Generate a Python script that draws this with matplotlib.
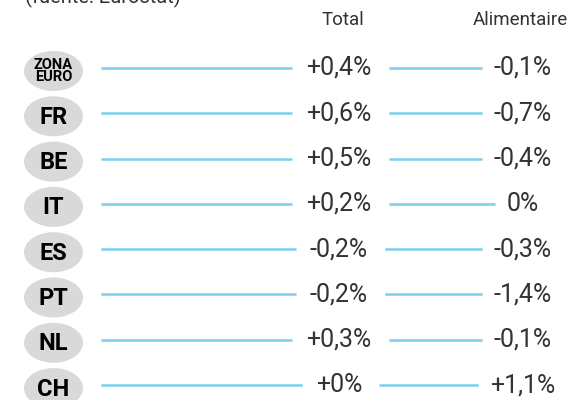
import matplotlib
matplotlib.use("Agg")
import matplotlib.pyplot as plt
from matplotlib.patches import Ellipse

# data
countries = ["ZONA\nEURO", "FR", "BE", "IT", "ES", "PT", "NL", "CH"]
total = ["+0,4%", "+0,6%", "+0,5%", "+0,2%", "-0,2%", "-0,2%", "+0,3%", "+0%"]
alimentaire = ["-0,1%", "-0,7%", "-0,4%", "0%", "-0,3%", "-1,4%", "-0,1%", "+1,1%"]
headers = ["Total", "Alimentaire"]

plt.rcParams['font.family'] = ['Roboto', 'DejaVu Sans']

fig = plt.figure(figsize=(5.78, 4.0), dpi=100)
ax = fig.add_axes([0, 0, 1, 1])
ax.set_xlim(0, 578)
# row i sits at pixel y = 68 + 45.3*i
ax.set_ylim(7.329, -1.501)
ax.axis("off")

txt_col = "#333333"
line_col = "#7fcdee"
px = 1 / 45.3  # one pixel in y data units

# title (cut off at the top)
ax.text(25, -1.501 + 3 * px, "(fuente: Eurostat)", fontsize=14.5, color=txt_col,
        ha="left", va="baseline")

# column headers
ax.text(343, -1.501 + 20 * px, headers[0], fontsize=13.5, color=txt_col, ha="center",
        va="center")
ax.text(520, -1.501 + 20 * px, headers[1], fontsize=13.5, color=txt_col, ha="center",
        va="center")

tot_x = 339
ali_x = 523
t_items = []
for i, c in enumerate(countries):
    ax.add_patch(Ellipse((53.5, i + 3 * px), 59, 40 * px, color="#d9d9d9", lw=0))
    if "\n" in c:
        ax.text(53.5, i + 3 * px, c, fontsize=10.5, fontweight="bold", color="black",
                ha="center", va="center", linespacing=0.85)
    else:
        ax.text(53.5, i + 4 * px, c, fontsize=17, fontweight="bold", color="black",
                ha="center", va="center")
    t1 = ax.text(tot_x, i, total[i], fontsize=18, color=txt_col, ha="center",
                 va="center")
    t2 = ax.text(ali_x, i, alimentaire[i], fontsize=18, color=txt_col, ha="center",
                 va="center")
    t_items.append((i, t1, t2))

fig.canvas.draw()
r = fig.canvas.get_renderer()
inv = ax.transData.inverted()
for i, t1, t2 in t_items:
    b1 = inv.transform(t1.get_window_extent(r))
    b2 = inv.transform(t2.get_window_extent(r))
    l1, r1 = b1[0][0], b1[1][0]
    l2 = b2[0][0]
    ax.plot([101, l1 - 14], [i, i], color=line_col, lw=1.8, solid_capstyle="butt")
    ax.plot([r1 + 17, l2 - 12], [i, i], color=line_col, lw=1.8, solid_capstyle="butt")

fig.savefig("out.png", dpi=100)
